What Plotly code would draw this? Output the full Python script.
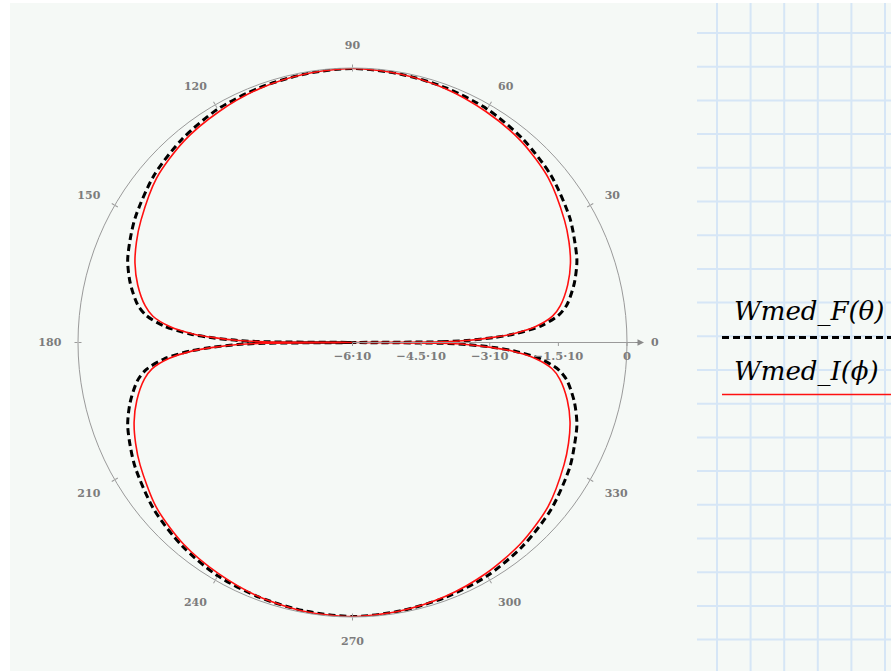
import plotly.graph_objects as go

# Polar angles (degrees) shared by both patterns
theta_deg = [
    0, 0.5, 1, 2, 3, 5, 7.5, 10, 15, 20, 25, 30, 40, 50, 60, 70, 80, 90,
    100, 110, 120, 130, 140, 150, 155, 160, 165, 170, 172.5, 175, 177, 178, 179, 179.5, 180,
    180.5, 181, 182, 183, 185, 187.5, 190, 195, 200, 205, 210, 220, 230, 240, 250, 260, 270,
    280, 290, 300, 310, 320, 330, 335, 340, 345, 350, 352.5, 355, 357, 358, 359, 359.5, 360,
]

# Wmed_F(theta), dashed black
wmed_F = [
    -6.00, -4.05, -3.50, -2.91, -2.46, -1.87, -1.46, -1.24, -0.98, -0.78, -0.65, -0.52, -0.33, -0.20, -0.11, -0.07, -0.04, -0.01,
    -0.04, -0.07, -0.11, -0.20, -0.33, -0.52, -0.64, -0.77, -0.97, -1.23, -1.45, -1.86, -2.45, -2.90, -3.49, -4.05, -6.00,
    -4.05, -3.49, -2.90, -2.45, -1.86, -1.45, -1.23, -0.97, -0.77, -0.64, -0.52, -0.33, -0.20, -0.11, -0.07, -0.04, -0.01,
    -0.04, -0.07, -0.11, -0.20, -0.33, -0.52, -0.65, -0.78, -0.98, -1.24, -1.46, -1.87, -2.46, -2.91, -3.50, -4.05, -6.00,
]

# Wmed_I(phi), solid red
wmed_I = [
    -6.00, -4.05, -3.50, -2.96, -2.52, -1.98, -1.59, -1.39, -1.13, -0.93, -0.78, -0.65, -0.41, -0.26, -0.17, -0.09, -0.04, -0.01,
    -0.04, -0.09, -0.17, -0.26, -0.41, -0.66, -0.79, -0.94, -1.14, -1.40, -1.60, -1.99, -2.53, -2.97, -3.51, -4.06, -6.00,
    -4.05, -3.50, -2.95, -2.50, -1.97, -1.58, -1.38, -1.12, -0.92, -0.77, -0.64, -0.40, -0.25, -0.16, -0.08, -0.03, -0.01,
    -0.04, -0.09, -0.17, -0.27, -0.42, -0.66, -0.79, -0.94, -1.14, -1.40, -1.60, -1.99, -2.53, -2.97, -3.51, -4.06, -6.00,
]

radial_ticks = [-6, -4.5, -3, -1.5, 0]
radial_labels = ["\u22126\u00b710", "\u22124.5\u00b710", "\u22123\u00b710", "\u22121.5\u00b710", "0"]
angular_ticks = list(range(0, 360, 30))

legend_labels = ["Wmed_F(\u03b8)", "Wmed_I(\u03d5)"]

W, H = 891, 671
BG = "#f5f9f6"
GRID = "#d6e6f6"
AXIS = "#9a9a9a"
LABEL = "#7c7c7c"


def px(x):
    return x / W


def py(y):
    return 1 - y / H


POLAR_DOMAIN = dict(x=[px(78), px(627)], y=[py(617), py(68)])

fig = go.Figure()

fig.add_trace(go.Scatterpolar(
    r=wmed_F, theta=theta_deg, mode="lines",
    line=dict(color="black", width=3, dash="7px,4px", shape="spline", smoothing=0.8),
    showlegend=False, hoverinfo="skip",
))
fig.add_trace(go.Scatterpolar(
    r=wmed_I, theta=theta_deg, mode="lines",
    line=dict(color="#ff1010", width=1.6, shape="spline", smoothing=0.8),
    showlegend=False, hoverinfo="skip",
))
# invisible anchors so the tick-mark overlays get drawn
for sp in ("polar2", "polar3"):
    fig.add_trace(go.Scatterpolar(
        r=[radial_ticks[0]], theta=[angular_ticks[0]], mode="markers",
        marker=dict(opacity=0), subplot=sp, showlegend=False, hoverinfo="skip",
    ))

shapes = []
# sheet background
shapes.append(dict(type="rect", xref="paper", yref="paper", layer="below",
                   x0=px(10), x1=1, y0=0, y1=py(3),
                   fillcolor=BG, line=dict(width=0)))
# worksheet grid on the right
gx = 717.0
while gx < W:
    shapes.append(dict(type="line", xref="paper", yref="paper", layer="below",
                       x0=px(gx), x1=px(gx), y0=0, y1=py(3),
                       line=dict(color=GRID, width=2)))
    gx += 33.6
gy = 33.0
while gy < H:
    shapes.append(dict(type="line", xref="paper", yref="paper", layer="below",
                       x0=px(697), x1=1, y0=py(gy), y1=py(gy),
                       line=dict(color=GRID, width=2)))
    gy += 33.7
# legend samples
shapes.append(dict(type="line", xref="paper", yref="paper",
                   x0=px(722), x1=1, y0=py(337.5), y1=py(337.5),
                   line=dict(color="black", width=3, dash="7px,4px")))
shapes.append(dict(type="line", xref="paper", yref="paper",
                   x0=px(722), x1=1, y0=py(394.5), y1=py(394.5),
                   line=dict(color="#ff1010", width=1.6)))
# radial axis continuation to the arrow
shapes.append(dict(type="line", xref="paper", yref="paper",
                   x0=px(626), x1=px(636), y0=py(342.5), y1=py(342.5),
                   line=dict(color=AXIS, width=1)))

tick_font = dict(family="DejaVu Serif", size=11, color=LABEL, weight="bold")

annotations = [
    dict(xref="paper", yref="paper", x=px(644), y=py(342.5), ax=-10, ay=0,
         text="", showarrow=True, arrowhead=2, arrowsize=1.3, arrowwidth=1,
         arrowcolor="#8a8a8a"),
    # the 0-degree label sits beyond the axis arrow
    dict(xref="paper", yref="paper", x=px(655), y=py(342.5), xanchor="center", yanchor="middle",
         text=str(angular_ticks[0]), showarrow=False, font=tick_font),
    dict(xref="paper", yref="paper", x=px(732), y=py(312), xanchor="left", yanchor="middle",
         text="<i>" + legend_labels[0] + "</i>", showarrow=False,
         font=dict(family="DejaVu Serif", size=26, color="black")),
    dict(xref="paper", yref="paper", x=px(732), y=py(371), xanchor="left", yanchor="middle",
         text="<i>" + legend_labels[1] + "</i>", showarrow=False,
         font=dict(family="DejaVu Serif", size=26, color="black")),
]

hidden_radial = dict(visible=False, range=[-6, 0])


def tick_only_angular(direction_ticks):
    return dict(
        rotation=0, direction="counterclockwise",
        tickmode="array", tickvals=angular_ticks,
        showticklabels=False, showgrid=False, showline=False,
        ticks=direction_ticks, ticklen=3, tickcolor=AXIS, tickwidth=1,
    )


fig.update_layout(
    width=W, height=H, autosize=False,
    margin=dict(l=0, r=0, t=0, b=0),
    paper_bgcolor="white",
    showlegend=False,
    shapes=shapes,
    annotations=annotations,
    polar=dict(
        domain=POLAR_DOMAIN,
        bgcolor="rgba(0,0,0,0)",
        angularaxis=dict(
            rotation=0, direction="counterclockwise",
            tickmode="array", tickvals=angular_ticks,
            ticktext=[""] + [str(a) for a in angular_ticks[1:]],
            showgrid=False, showline=True, linecolor=AXIS, linewidth=1,
            ticks="outside", ticklen=14, tickcolor="rgba(0,0,0,0)",
            tickfont=tick_font,
        ),
        radialaxis=dict(
            range=[-6, 0], angle=0, side="clockwise",
            tickmode="array", tickvals=radial_ticks, ticktext=radial_labels,
            showgrid=False, showline=True, linecolor=AXIS, linewidth=1,
            ticks="outside", ticklen=3, tickcolor=AXIS,
            tickfont=dict(family="DejaVu Serif", size=11.5, color=LABEL, weight="bold"),
            tickangle=0,
        ),
    ),
    polar2=dict(
        domain=POLAR_DOMAIN, bgcolor="rgba(0,0,0,0)",
        angularaxis=tick_only_angular("inside"),
        radialaxis=hidden_radial,
    ),
    polar3=dict(
        domain=POLAR_DOMAIN, bgcolor="rgba(0,0,0,0)",
        angularaxis=tick_only_angular("outside"),
        radialaxis=hidden_radial,
    ),
)

fig.write_html("out.html")
